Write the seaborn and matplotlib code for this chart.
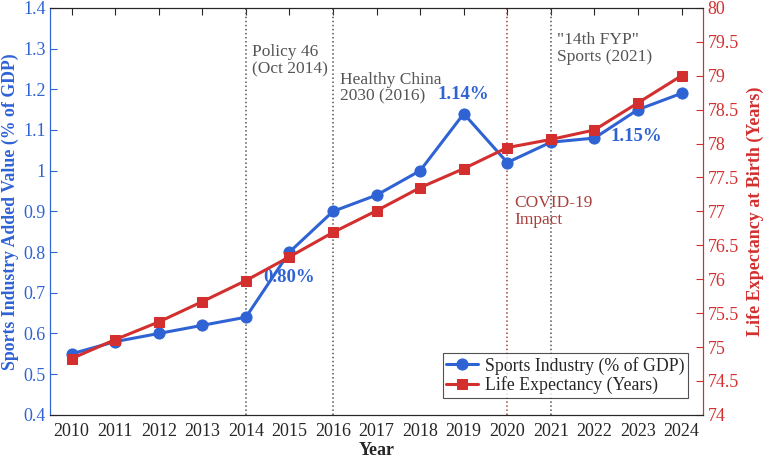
import pandas as pd
import matplotlib.pyplot as plt
import seaborn as sns

# Data
years = [2010, 2011, 2012, 2013, 2014, 2015, 2016, 2017, 2018, 2019, 2020, 2021, 2022, 2023, 2024]
sports_gdp = [0.55, 0.58, 0.60, 0.62, 0.64, 0.80, 0.90, 0.94, 1.00, 1.14, 1.02, 1.07, 1.08, 1.15, 1.19]
life_exp = [74.83, 75.11, 75.37, 75.67, 75.98, 76.33, 76.69, 77.01, 77.35, 77.63, 77.94, 78.06, 78.2, 78.6, 79.0]

policy_years = [2014, 2016, 2021]
policy_labels = ["Policy 46\n(Oct 2014)", "Healthy China\n2030 (2016)", "\"14th FYP\"\nSports (2021)"]
covid_year = 2020

df = pd.DataFrame({"Year": years, "Sports": sports_gdp, "Life": life_exp})

sns.set_theme(style="white")
plt.rcParams["font.family"] = ["Liberation Serif", "DejaVu Serif"]

blue = "#2f63d4"
red = "#d32f2f"
grey = "#555555"
covid_col = "#a8403c"

fig = plt.figure(figsize=(7.67, 4.62), dpi=100)
ax = fig.add_axes([0.065, 0.102, 0.852, 0.881])
ax2 = ax.twinx()

# policy / event markers
for yr in policy_years:
    ax.axvline(yr, color=grey, linestyle=":", linewidth=1.1, zorder=1)
ax.axvline(covid_year, color=covid_col, linestyle=":", linewidth=1.1, zorder=1)

sns.lineplot(data=df, x="Year", y="Sports", ax=ax, color=blue, marker="o",
             markersize=8, linewidth=2.2, markeredgecolor=blue,
             label="Sports Industry (% of GDP)", legend=False, zorder=3)
sns.lineplot(data=df, x="Year", y="Life", ax=ax2, color=red, marker="s",
             markersize=7, linewidth=2.2, markeredgecolor=red,
             label="Life Expectancy (Years)", legend=False, zorder=3)

ax.set_xlim(2009.5, 2024.5)
ax.set_ylim(0.4, 1.4)
ax2.set_ylim(74, 80)
ax.set_xticks(years)
ax.set_xticklabels([str(y) for y in years])
ax.set_yticks([0.4 + 0.1 * i for i in range(11)])
ax.set_yticklabels(["0.4", "0.5", "0.6", "0.7", "0.8", "0.9", "1", "1.1", "1.2", "1.3", "1.4"])
ax2.set_yticks([74 + 0.5 * i for i in range(13)])
ax2.set_yticklabels(["74", "74.5", "75", "75.5", "76", "76.5", "77", "77.5", "78", "78.5", "79", "79.5", "80"])

ax.set_xlabel("Year", fontsize=13, fontweight="bold", color="#262626", labelpad=1)
ax.set_ylabel("Sports Industry Added Value (% of GDP)", fontsize=12.8, fontweight="bold", color=blue, labelpad=3)
ax2.set_ylabel("Life Expectancy at Birth (Years)", fontsize=13, fontweight="bold", color=red, labelpad=6)

ax.tick_params(axis="x", direction="in", top=True, length=5, width=0.8, colors="#262626", labelsize=13, pad=6)
ax.tick_params(axis="y", direction="in", length=5, width=0.8, colors=blue, labelsize=13, pad=3)
ax2.tick_params(axis="y", direction="in", length=5, width=0.8, colors=red, labelsize=13, pad=3)

for a in (ax, ax2):
    a.spines["top"].set_color("#262626")
    a.spines["bottom"].set_color("#262626")
    a.spines["left"].set_color(blue)
    a.spines["right"].set_color(red)
    for s in a.spines.values():
        s.set_linewidth(0.8)

# event labels
ax.text(2014.15, 1.31, policy_labels[0], color=grey, fontsize=12.5, va="top", ha="left", linespacing=1.05)
ax.text(2016.15, 1.242, policy_labels[1], color=grey, fontsize=12.5, va="top", ha="left", linespacing=1.05)
ax.text(2021.15, 1.34, policy_labels[2], color=grey, fontsize=12.5, va="top", ha="left", linespacing=1.05)
ax.text(2020.15, 0.94, "COVID-19\nImpact", color=covid_col, fontsize=12.5, va="top", ha="left", linespacing=1.05)

# value labels
ax.text(2015.0, 0.737, "0.80%", color=blue, fontsize=13.5, fontweight="bold", ha="center", va="center", zorder=4)
ax.text(2019.0, 1.188, "1.14%", color=blue, fontsize=13.5, fontweight="bold", ha="center", va="center", zorder=4)
ax.text(2022.96, 1.085, "1.15%", color=blue, fontsize=13.5, fontweight="bold", ha="center", va="center", zorder=4)

h1, l1 = ax.get_legend_handles_labels()
h2, l2 = ax2.get_legend_handles_labels()
leg = ax2.legend(h1 + h2, l1 + l2, loc="lower right", bbox_to_anchor=(0.977, 0.042),
                 borderaxespad=0, fontsize=12.8, frameon=True, fancybox=False, borderpad=0.2,
                 handlelength=1.8, handletextpad=0.4, labelspacing=0.1)
leg.get_frame().set_edgecolor("#262626")
leg.get_frame().set_linewidth(0.8)

fig.savefig("out.png", dpi=100)
